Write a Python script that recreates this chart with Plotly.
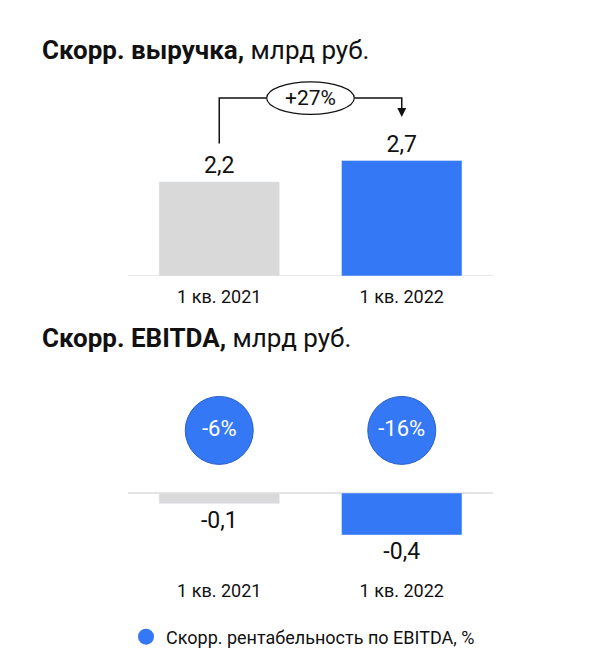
import plotly.graph_objects as go

# Data
quarters = ["1 кв. 2021", "1 кв. 2022"]
revenue = [2.2, 2.7]
ebitda = [-0.1, -0.4]
margin = ["-6%", "-16%"]
growth_label = "+27%"

bar_colors = ["#D9D9D9", "#3478F6"]
blue = "#3478F6"
font = "Roboto, Arial, sans-serif"
H = 667
OFF = 8  # page offset in the browser


def py(px):
    # pixel row in the reference -> paper fraction
    return 1 - (px - OFF) / H


fig = go.Figure()

# Top: revenue
fig.add_trace(go.Bar(
    x=quarters, y=revenue, marker_color=bar_colors, width=0.66,
    texttemplate="%{y:.1f}", textposition="outside", cliponaxis=False,
    textfont=dict(size=23, color="#111"), showlegend=False,
    xaxis="x", yaxis="y", hoverinfo="skip"))

# Bottom: EBITDA
fig.add_trace(go.Bar(
    x=quarters, y=ebitda, marker_color=bar_colors, width=0.66,
    texttemplate="%{y:.1f}", textposition="outside", cliponaxis=False,
    textfont=dict(size=23, color="#111"), showlegend=False,
    xaxis="x2", yaxis="y2", hoverinfo="skip"))

# EBITDA margin circles (overlay axis)
fig.add_trace(go.Scatter(
    x=quarters, y=[0.72] * len(quarters), mode="markers+text", text=margin,
    marker=dict(size=68, color=blue, line=dict(color="#2a5fc4", width=1)),
    textfont=dict(size=22, color="white"), textposition="middle center",
    name="Скорр. рентабельность по EBITDA, %", showlegend=False,
    xaxis="x2", yaxis="y3", cliponaxis=False, hoverinfo="skip"))

# legend-only marker
fig.add_trace(go.Scatter(
    x=[None], y=[None], mode="markers",
    marker=dict(size=22, color=blue),
    name="Скорр. рентабельность по EBITDA, %", xaxis="x2", yaxis="y3"))

# growth connector
fig.add_shape(type="path", xref="x", yref="y",
              path="M 0,3.1 L 0,4.16 L 0.26,4.16 M 0.74,4.16 L 1,4.16 L 1,3.85",
              line=dict(color="#111", width=1.5))
fig.add_shape(type="circle", xref="x", yref="y", x0=0.26, x1=0.74, y0=3.78, y1=4.54,
              line=dict(color="#111", width=1.2), fillcolor="white")
fig.add_annotation(x=1, y=3.72, ax=1, ay=3.9, xref="x", yref="y", axref="x", ayref="y",
                   text="", showarrow=True, arrowhead=2, arrowsize=1.2, arrowwidth=1.5,
                   arrowcolor="#111")
fig.add_annotation(x=0.5, y=4.16, xref="x", yref="y", text=growth_label, showarrow=False,
                   font=dict(size=21, color="#111"))

# titles
fig.add_annotation(x=32 / 590, y=py(50), xref="paper", yref="paper",
                   xanchor="left", yanchor="middle",
                   text="<b>Скорр. выручка,</b> млрд руб.", showarrow=False,
                   font=dict(size=26, color="#111"))
fig.add_annotation(x=32 / 590, y=py(338), xref="paper", yref="paper",
                   xanchor="left", yanchor="middle",
                   text="<b>Скорр. EBITDA,</b> млрд руб.", showarrow=False,
                   font=dict(size=26, color="#111"))

xdom = [120 / 590, 485 / 590]
fig.update_layout(
    width=590, height=H, margin=dict(l=0, r=0, t=0, b=0),
    paper_bgcolor="white", plot_bgcolor="white", separators=", ",
    font=dict(family=font, color="#111"), bargap=0.34,
    xaxis=dict(domain=xdom, anchor="y", showgrid=False, showline=False,
               tickfont=dict(size=18), ticklabelstandoff=8),
    yaxis=dict(domain=[py(276), py(78)], range=[0, 4.63],
               visible=False, showgrid=False),
    xaxis2=dict(domain=xdom, anchor="y2", showgrid=False, showline=False,
                tickfont=dict(size=18), ticklabelstandoff=18),
    yaxis2=dict(domain=[py(560), py(380)], range=[-0.638, 1.076],
                showgrid=False, showticklabels=False, zeroline=True,
                zerolinecolor="#e3e3e3", zerolinewidth=1.5),
    yaxis3=dict(domain=[py(560), py(380)], range=[0, 1],
                overlaying="y2", visible=False),
    legend=dict(x=0.2, y=py(637), yanchor="middle", xanchor="left",
                font=dict(size=18), bgcolor="rgba(0,0,0,0)"),
)
fig.add_shape(type="line", xref="paper", yref="y", x0=xdom[0], x1=xdom[1], y0=0, y1=0,
              line=dict(color="#e3e3e3", width=1.5), layer="below")

fig.write_html("out.html")
